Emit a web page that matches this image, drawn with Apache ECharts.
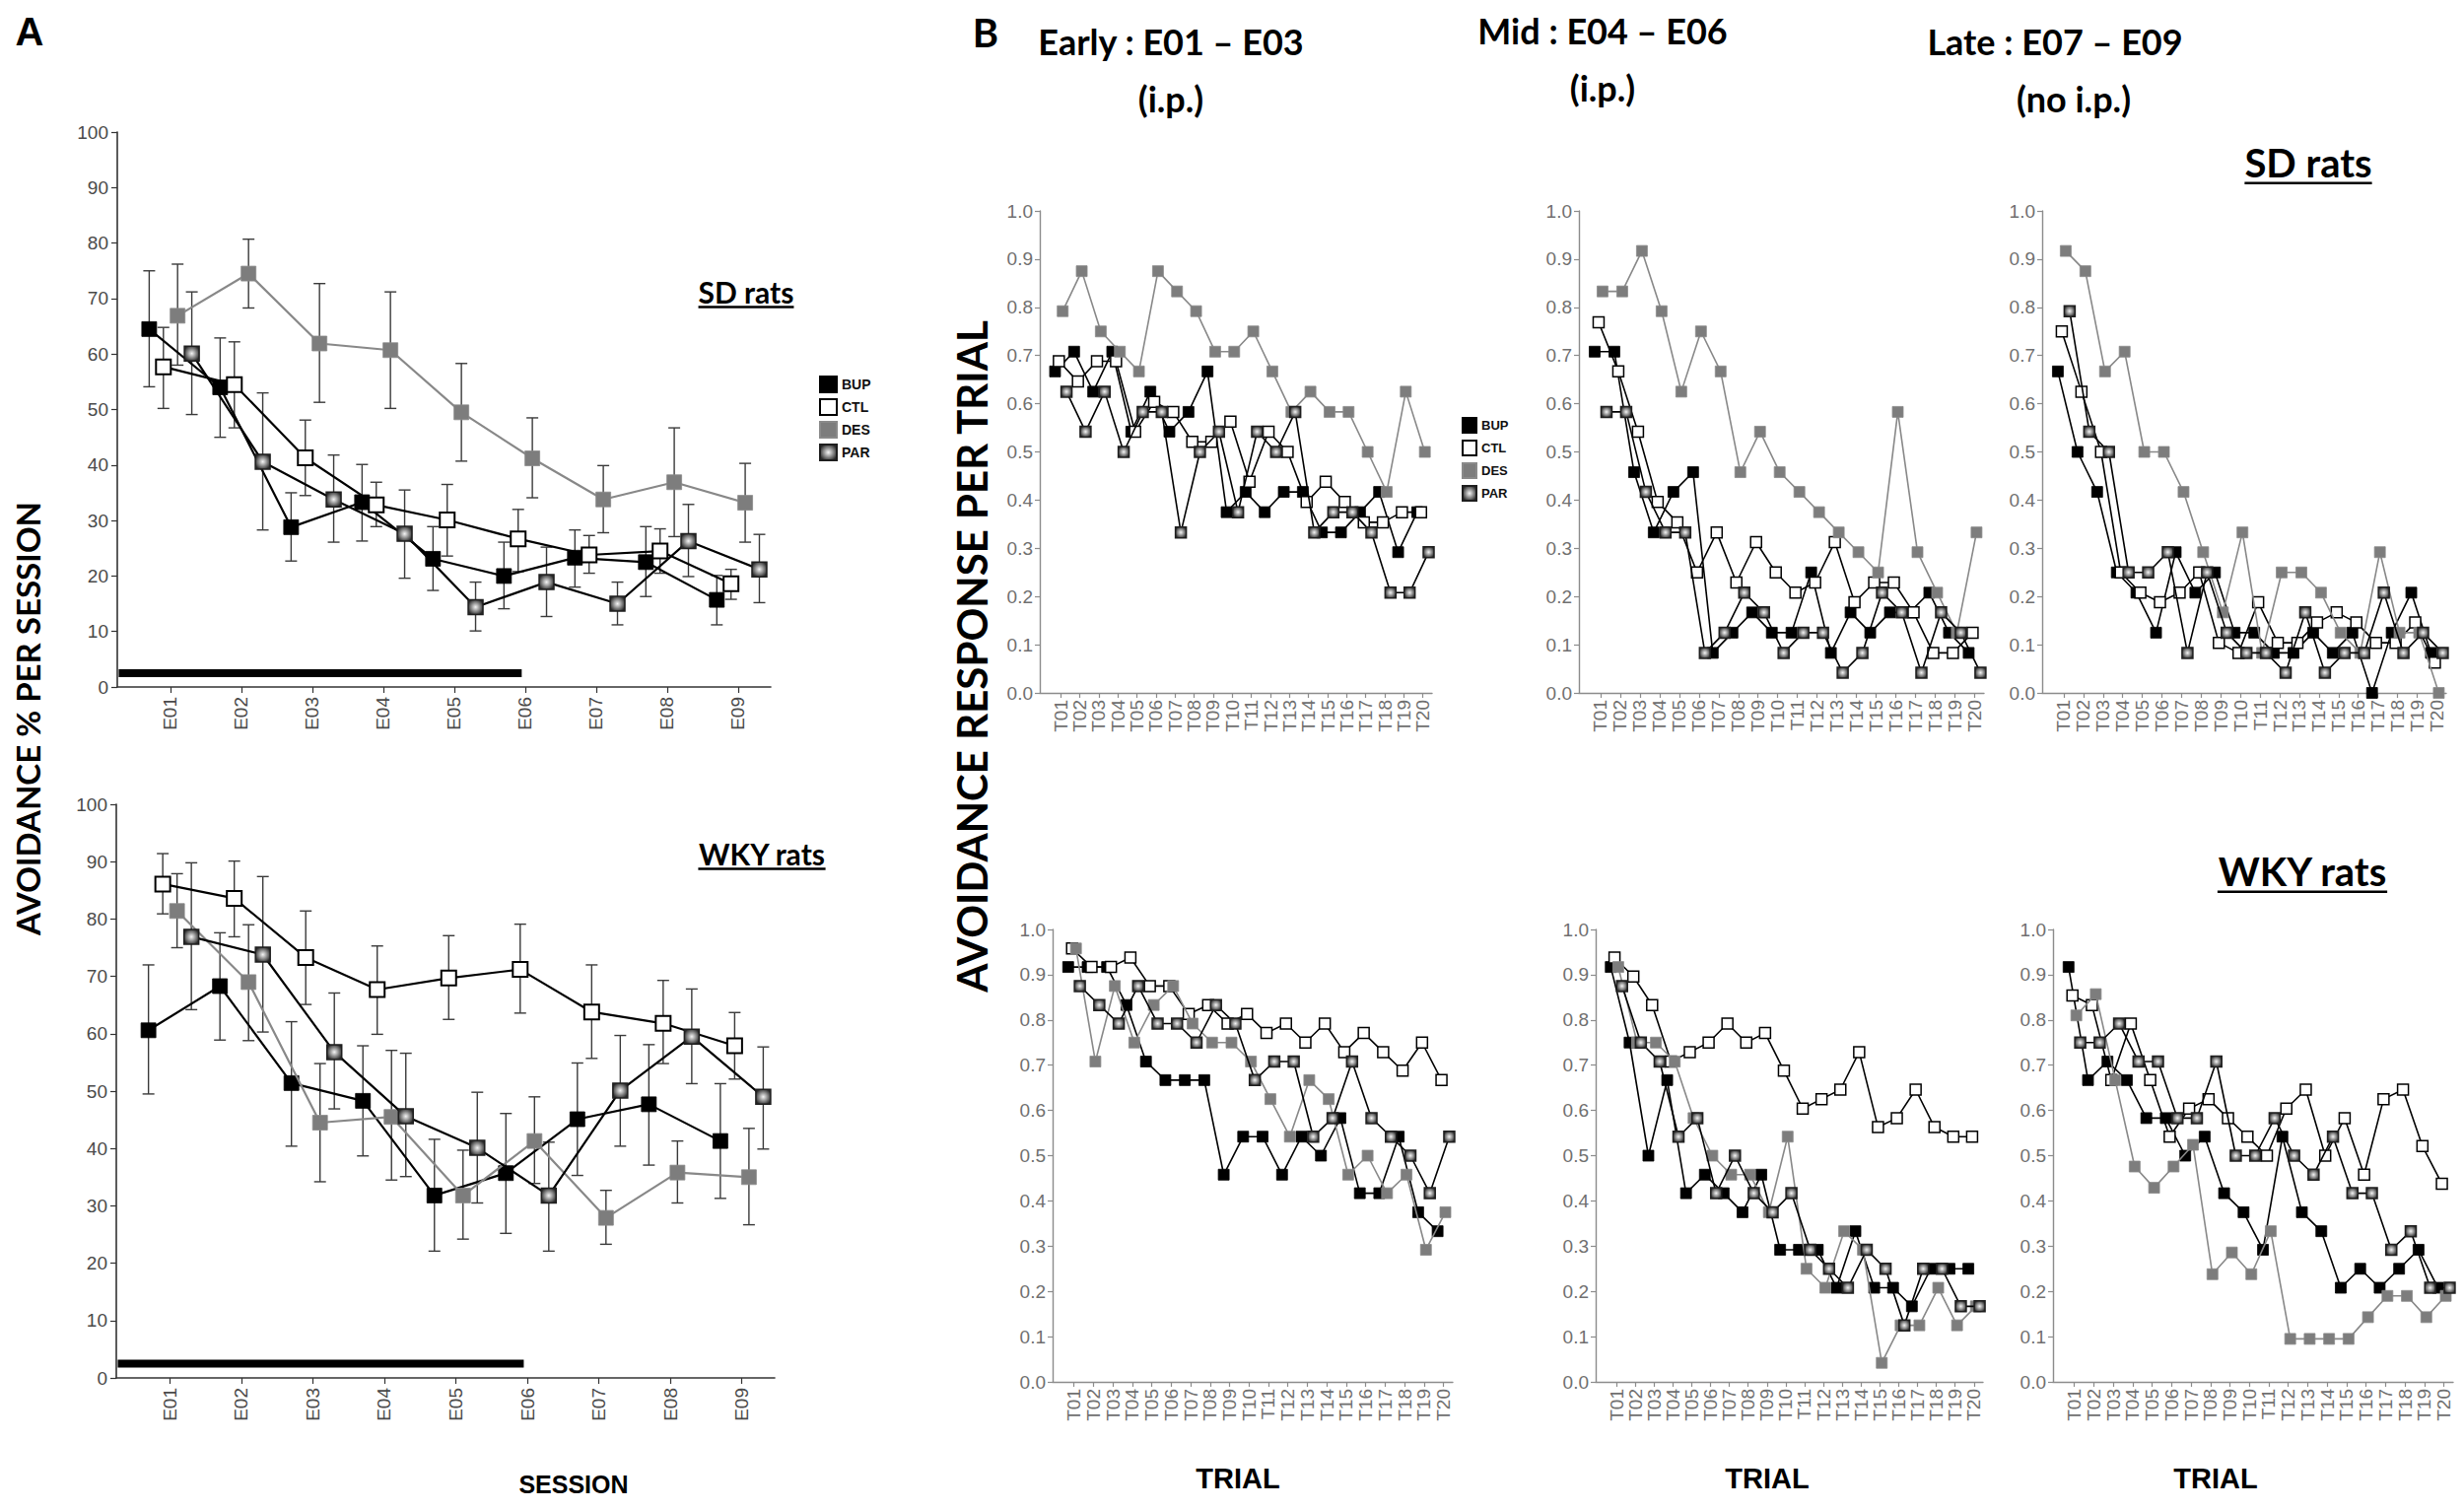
<!DOCTYPE html>
<html><head><meta charset="utf-8">
<script src="https://cdn.jsdelivr.net/npm/echarts@6/dist/echarts.min.js"></script>
<style>html,body{margin:0;padding:0;background:#fff}#c{width:2500px;height:1532px}</style>
</head><body><div id="c"></div>
<script>
// ---------------- DATA ----------------
const groups = ['BUP', 'CTL', 'DES', 'PAR'];
const sessions = ['E01', 'E02', 'E03', 'E04', 'E05', 'E06', 'E07', 'E08', 'E09'];
const trials = ['T01','T02','T03','T04','T05','T06','T07','T08','T09','T10','T11','T12','T13','T14','T15','T16','T17','T18','T19','T20'];

// Panel A – avoidance % per session (mean) and error bars [low, high]
const sdSessionBUP = [64.5, 54.0, 28.8, 33.3, 23.1, 20.0, 23.3, 22.5, 15.7];
const sdSessionCTL = [57.7, 54.5, 41.3, 32.8, 30.1, 26.7, 23.8, 24.5, 18.6];
const sdSessionDES = [66.9, 74.5, 61.9, 60.7, 49.5, 41.2, 33.8, 36.9, 33.2];
const sdSessionPAR = [60.1, 40.6, 33.8, 27.6, 14.4, 18.9, 15.0, 26.3, 21.2];
const sdErrBUP = [[54.1,75.0],[45.0,62.9],[22.7,35.0],[26.3,40.1],[17.4,28.9],[14.1,26.1],[18.0,28.3],[16.3,28.9],[11.2,20.1]];
const sdErrCTL = [[50.2,64.8],[46.7,62.2],[34.5,48.1],[28.9,36.9],[23.6,36.5],[20.8,32.0],[20.5,27.3],[20.5,28.5],[15.8,21.2]];
const sdErrDES = [[58.0,76.2],[68.3,80.7],[51.3,72.7],[50.2,71.2],[40.7,58.3],[34.1,48.5],[27.8,39.9],[27.1,46.7],[26.1,40.3]];
const sdErrPAR = [[49.1,71.2],[28.3,53.0],[26.1,41.8],[19.6,35.5],[10.1,18.9],[12.7,25.2],[11.2,18.9],[19.9,32.9],[15.2,27.5]];

const wkySessionBUP = [60.6, 68.3, 51.4, 48.3, 31.8, 35.7, 45.1, 47.7, 41.3];
const wkySessionCTL = [86.1, 83.6, 73.3, 67.7, 69.7, 71.2, 63.8, 61.8, 57.9];
const wkySessionDES = [81.4, 69.0, 44.5, 45.5, 31.8, 41.3, 27.9, 35.8, 35.0];
const wkySessionPAR = [76.9, 73.8, 56.8, 45.6, 40.1, 31.8, 50.1, 59.5, 49.0];
const wkyErrBUP = [[49.5,72.0],[58.9,77.6],[40.4,62.1],[38.7,57.9],[22.1,41.6],[25.2,46.1],[35.3,54.9],[37.1,58.1],[31.3,51.3]];
const wkyErrCTL = [[80.9,91.4],[76.9,90.1],[65.1,81.4],[59.9,75.3],[62.5,77.1],[63.6,79.1],[55.7,72.0],[54.8,69.3],[52.1,63.7]];
const wkyErrDES = [[75.0,87.9],[58.8,79.0],[34.2,54.8],[34.5,57.1],[24.2,39.7],[33.9,49.0],[23.3,32.7],[30.5,41.3],[26.7,43.5]];
const wkyErrPAR = [[64.2,89.8],[60.3,87.4],[46.9,67.1],[35.1,56.6],[30.5,49.8],[22.1,41.1],[40.4,59.7],[51.3,67.8],[39.9,57.7]];

// Treatment period bar (sessions, from..to) and its level on the % axis
const drugPeriod = [0.27, 5.95];
const drugLevel = 2.5;

// Panel B – avoidance response per trial
const sdEarlyBUP = [0.667,0.708,0.625,0.708,0.542,0.625,0.542,0.583,0.667,0.375,0.417,0.375,0.417,0.417,0.333,0.333,0.375,0.417,0.292,0.375];
const sdEarlyCTL = [0.688,0.646,0.688,0.688,0.542,0.604,0.583,0.521,0.521,0.563,0.438,0.542,0.500,0.396,0.438,0.396,0.354,0.354,0.375,0.375];
const sdEarlyDES = [0.792,0.875,0.750,0.708,0.667,0.875,0.833,0.792,0.708,0.708,0.750,0.667,0.583,0.625,0.583,0.583,0.500,0.417,0.625,0.500];
const sdEarlyPAR = [0.625,0.542,0.625,0.500,0.583,0.583,0.333,0.500,0.542,0.375,0.542,0.500,0.583,0.333,0.375,0.375,0.333,0.208,0.208,0.292];

const sdMidBUP = [0.708,0.708,0.458,0.333,0.417,0.458,0.083,0.125,0.167,0.125,0.125,0.250,0.083,0.167,0.125,0.167,0.167,0.208,0.125,0.083];
const sdMidCTL = [0.769,0.667,0.542,0.396,0.354,0.250,0.333,0.229,0.313,0.250,0.208,0.229,0.313,0.188,0.229,0.229,0.167,0.083,0.083,0.125];
const sdMidDES = [0.833,0.833,0.917,0.792,0.625,0.750,0.667,0.458,0.542,0.458,0.417,0.375,0.333,0.292,0.250,0.583,0.292,0.208,0.125,0.333];
const sdMidPAR = [0.583,0.583,0.417,0.333,0.333,0.083,0.125,0.208,0.167,0.083,0.125,0.125,0.042,0.083,0.208,0.167,0.042,0.167,0.125,0.042];

const sdLateBUP = [0.667,0.500,0.417,0.250,0.208,0.125,0.292,0.208,0.250,0.125,0.125,0.083,0.083,0.125,0.083,0.125,0.000,0.125,0.208,0.083];
const sdLateCTL = [0.750,0.625,0.500,0.250,0.208,0.188,0.208,0.250,0.104,0.083,0.188,0.104,0.104,0.146,0.167,0.146,0.104,0.104,0.146,0.063];
const sdLateDES = [0.917,0.875,0.667,0.708,0.500,0.500,0.417,0.292,0.167,0.333,0.083,0.250,0.250,0.208,0.125,0.083,0.292,0.125,0.125,0.000];
const sdLatePAR = [0.792,0.542,0.500,0.250,0.250,0.292,0.083,0.250,0.125,0.083,0.083,0.042,0.167,0.042,0.083,0.083,0.208,0.083,0.125,0.083];

const wkyEarlyBUP = [0.917,0.917,0.917,0.833,0.708,0.667,0.667,0.667,0.458,0.542,0.542,0.458,0.542,0.500,0.583,0.417,0.417,0.542,0.375,0.333];
const wkyEarlyCTL = [0.958,0.917,0.917,0.938,0.875,0.875,0.813,0.833,0.792,0.813,0.771,0.792,0.750,0.792,0.729,0.771,0.729,0.688,0.750,0.667];
const wkyEarlyDES = [0.958,0.708,0.875,0.750,0.833,0.875,0.792,0.750,0.750,0.708,0.625,0.542,0.667,0.625,0.458,0.500,0.417,0.458,0.292,0.375];
const wkyEarlyPAR = [0.875,0.833,0.792,0.875,0.792,0.792,0.750,0.833,0.792,0.667,0.708,0.708,0.542,0.583,0.708,0.583,0.542,0.500,0.417,0.542];

const wkyMidBUP = [0.917,0.750,0.500,0.667,0.417,0.458,0.417,0.375,0.458,0.292,0.292,0.292,0.208,0.333,0.208,0.208,0.167,0.250,0.250,0.250];
const wkyMidCTL = [0.938,0.896,0.833,0.708,0.729,0.750,0.792,0.750,0.771,0.688,0.604,0.625,0.646,0.729,0.563,0.583,0.646,0.563,0.542,0.542];
const wkyMidDES = [0.917,0.750,0.750,0.708,0.583,0.500,0.458,0.458,0.375,0.542,0.250,0.208,0.333,0.292,0.042,0.125,0.125,0.208,0.125,0.167];
const wkyMidPAR = [0.875,0.750,0.708,0.542,0.583,0.417,0.500,0.417,0.375,0.417,0.292,0.250,0.208,0.292,0.250,0.125,0.250,0.250,0.167,0.167];

const wkyLateBUP = [0.917,0.667,0.708,0.667,0.583,0.583,0.500,0.542,0.417,0.375,0.292,0.542,0.375,0.333,0.208,0.250,0.208,0.250,0.292,0.208];
const wkyLateCTL = [0.854,0.833,0.667,0.792,0.667,0.542,0.604,0.625,0.583,0.542,0.500,0.604,0.646,0.500,0.583,0.458,0.625,0.646,0.521,0.438];
const wkyLateDES = [0.810,0.857,0.667,0.476,0.429,0.476,0.524,0.238,0.286,0.238,0.333,0.095,0.095,0.095,0.095,0.143,0.190,0.190,0.143,0.190];
const wkyLatePAR = [0.750,0.750,0.792,0.708,0.708,0.583,0.583,0.708,0.500,0.500,0.583,0.500,0.458,0.542,0.417,0.417,0.292,0.333,0.208,0.208];

// ---------------- LAYOUT / STYLE ----------------
const dodge = { BUP: -0.3, CTL: -0.1, DES: 0.1, PAR: 0.3 };
const NARROW = "'Liberation Sans Narrow', 'Liberation Sans', Arial, sans-serif";
const REG = "'Liberation Sans', Arial, sans-serif";
const BOLD_A = "'Liberation Sans', Arial, sans-serif";
const BOLD_B = "Lato, 'Open Sans', sans-serif";

const parFill = new echarts.graphic.RadialGradient(0.5, 0.5, 0.55, [
  { offset: 0, color: '#f4f4f4' }, { offset: 0.25, color: '#c4c4c4' },
  { offset: 0.55, color: '#888888' }, { offset: 0.85, color: '#4a4a4a' }, { offset: 1, color: '#2a2a2a' }
]);
const look = {
  BUP: { fill: '#000000', border: '#000000', line: '#000000' },
  CTL: { fill: '#ffffff', border: '#000000', line: '#000000' },
  DES: { fill: '#7d7d7d', border: '#8a8a8a', line: '#888888' },
  PAR: { fill: parFill, border: '#1e1e1e', line: '#000000' }
};

const panels = [
  // panel A
  { kind: 'A', box: { left: 119, top: 134, width: 663, height: 563 }, vals: [sdSessionBUP, sdSessionCTL, sdSessionDES, sdSessionPAR], errs: [sdErrBUP, sdErrCTL, sdErrDES, sdErrPAR] },
  { kind: 'A', box: { left: 118, top: 816, width: 668, height: 582 }, vals: [wkySessionBUP, wkySessionCTL, wkySessionDES, wkySessionPAR], errs: [wkyErrBUP, wkyErrCTL, wkyErrDES, wkyErrPAR] },
  // panel B
  { kind: 'B', box: { left: 1055, top: 214, width: 398, height: 489 }, vals: [sdEarlyBUP, sdEarlyCTL, sdEarlyDES, sdEarlyPAR] },
  { kind: 'B', box: { left: 1602, top: 214, width: 411, height: 489 }, vals: [sdMidBUP, sdMidCTL, sdMidDES, sdMidPAR] },
  { kind: 'B', box: { left: 2072, top: 214, width: 410, height: 489 }, vals: [sdLateBUP, sdLateCTL, sdLateDES, sdLatePAR] },
  { kind: 'B', box: { left: 1068, top: 943, width: 406, height: 459 }, vals: [wkyEarlyBUP, wkyEarlyCTL, wkyEarlyDES, wkyEarlyPAR] },
  { kind: 'B', box: { left: 1619, top: 943, width: 393, height: 459 }, vals: [wkyMidBUP, wkyMidCTL, wkyMidDES, wkyMidPAR] },
  { kind: 'B', box: { left: 2083, top: 943, width: 406, height: 459 }, vals: [wkyLateBUP, wkyLateCTL, wkyLateDES, wkyLatePAR] }
];

const sessionTicks = sessions.map((s, i) => i + 1);
const trialTicks = trials.map((s, i) => i + 1);

const grids = [], xAxes = [], yAxes = [], series = [];

function errRender(params, api) {
  const x = api.value(0), lo = api.value(1), hi = api.value(2);
  const a = api.coord([x, lo]), b = api.coord([x, hi]);
  const c = 6;
  const st = { stroke: '#3a3a3a', lineWidth: 1.4 };
  return { type: 'group', children: [
    { type: 'line', shape: { x1: a[0], y1: a[1], x2: b[0], y2: b[1] }, style: st },
    { type: 'line', shape: { x1: a[0] - c, y1: a[1], x2: a[0] + c, y2: a[1] }, style: st },
    { type: 'line', shape: { x1: b[0] - c, y1: b[1], x2: b[0] + c, y2: b[1] }, style: st }
  ] };
}

panels.forEach((p, gi) => {
  const isA = p.kind === 'A';
  grids.push(Object.assign({ outerBoundsMode: 'none', containLabel: false }, p.box));
  const axisCol = isA ? '#333333' : '#8c8c8c';
  const labCol = isA ? '#4a4a4a' : '#707070';
  const labFont = isA ? REG : NARROW;
  const labSize = isA ? 19 : 19;
  const ticks = isA ? sessionTicks : trialTicks;
  const names = isA ? sessions : trials;
  xAxes.push({
    type: 'value', gridIndex: gi,
    min: isA ? 0.25 : -0.1, max: isA ? 9.46 : 20.48,
    axisLine: { show: true, onZero: false, lineStyle: { color: axisCol, width: isA ? 1.6 : 1.4 } },
    axisTick: { show: true, customValues: ticks, length: isA ? 6 : 5, lineStyle: { color: axisCol, width: 1.2 } },
    axisLabel: { show: true, customValues: ticks, formatter: v => names[Math.round(v) - 1] || '',
      rotate: 90, margin: isA ? 10 : 7, color: labCol, fontSize: labSize, fontFamily: labFont, hideOverlap: false },
    splitLine: { show: false }
  });
  yAxes.push({
    type: 'value', gridIndex: gi,
    min: 0, max: isA ? 100 : 1, interval: isA ? 10 : 0.1,
    axisLine: { show: true, onZero: false, lineStyle: { color: axisCol, width: isA ? 1.6 : 1.4 } },
    axisTick: { show: true, length: isA ? 6 : 5, lineStyle: { color: axisCol, width: 1.2 } },
    axisLabel: { show: true, margin: isA ? 9 : 7, color: labCol, fontSize: labSize, fontFamily: labFont,
      formatter: v => isA ? String(Math.round(v)) : v.toFixed(1) },
    splitLine: { show: false }
  });

  if (isA) {
    series.push({
      type: 'line', name: 'treatment', xAxisIndex: gi, yAxisIndex: gi, silent: true,
      data: [[drugPeriod[0], drugLevel], [drugPeriod[1], drugLevel]],
      symbol: 'none', lineStyle: { color: '#000', width: 8, cap: 'butt' }, z: 1
    });
    groups.forEach((g, k) => {
      series.push({
        type: 'custom', name: g + ' error', xAxisIndex: gi, yAxisIndex: gi, silent: true,
        renderItem: errRender, encode: { x: 0, y: [1, 2] },
        data: p.errs[k].map((e, i) => [i + 1 + dodge[g], e[0], e[1]]), z: 2
      });
    });
  }
  groups.forEach((g, k) => {
    const L = look[g];
    series.push({
      type: 'line', name: g, xAxisIndex: gi, yAxisIndex: gi,
      data: p.vals[k].map((v, i) => [i + 1 + dodge[g], v]),
      symbol: 'rect', symbolSize: isA ? 15 : 11, showAllSymbol: true,
      lineStyle: { color: L.line, width: isA ? 2.2 : 1.6 },
      itemStyle: { color: L.fill, borderColor: L.border, borderWidth: g === 'CTL' ? (isA ? 2 : 1.5) : (g === 'PAR' ? 1.5 : 0.8) },
      emphasis: { disabled: true }, z: 3 + k
    });
  });
});

// ---------------- TEXT ----------------
const mctx = document.createElement('canvas').getContext('2d');
function tw(str, font) { mctx.font = font; return mctx.measureText(str).width; }
function txt(str, x, y, size, family, opts) {
  opts = opts || {};
  const font = 'bold ' + size + 'px ' + family;
  return { type: 'text', x: x, y: y, rotation: opts.rotation || 0, silent: true,
    style: { text: str, font: font, fill: '#000', align: 'center', verticalAlign: 'middle', textAlign: 'center', textVerticalAlign: 'middle' } };
}
function underlined(str, x, y, size, family) {
  const font = 'bold ' + size + 'px ' + family;
  const w = tw(str, font);
  return [txt(str, x, y, size, family),
    { type: 'line', silent: true, shape: { x1: x - w / 2, y1: y + size * 0.52, x2: x + w / 2, y2: y + size * 0.52 }, style: { stroke: '#000', lineWidth: 2.5 } }];
}

const graphic = [].concat(
  [txt('A', 30, 32, 40, BOLD_A), txt('B', 1000, 33, 40, BOLD_B)],
  [txt('Early : E01 – E03', 1188, 42, 36, BOLD_B), txt('(i.p.)', 1188, 100, 36, BOLD_B)],
  [txt('Mid : E04 – E06', 1626, 31, 36, BOLD_B), txt('(i.p.)', 1626, 89, 36, BOLD_B)],
  [txt('Late : E07 – E09', 2085, 42, 36, BOLD_B), txt('(no i.p.)', 2104, 100, 36, BOLD_B)],
  underlined('SD rats', 2342, 165, 40, BOLD_B),
  underlined('WKY rats', 2336, 884, 40, BOLD_B),
  underlined('SD rats', 757, 296, 30, BOLD_B),
  underlined('WKY rats', 773, 866, 30, BOLD_B),
  [txt('SESSION', 582, 1506, 25, BOLD_A)],
  [txt('TRIAL', 1256, 1500, 29, BOLD_A), txt('TRIAL', 1793, 1500, 29, BOLD_A), txt('TRIAL', 2248, 1500, 29, BOLD_A)],
  [txt('AVOIDANCE % PER SESSION', 28, 729, 33, BOLD_B, { rotation: Math.PI / 2 })],
  [txt('AVOIDANCE RESPONSE PER TRIAL', 986, 666, 42, BOLD_B, { rotation: Math.PI / 2 })]
);

const legendCommon = {
  data: groups, orient: 'vertical', icon: 'rect', selectedMode: false,
  textStyle: { fontWeight: 'bold', color: '#111', fontFamily: NARROW }
};

const chart = echarts.init(document.getElementById('c'), null, { renderer: 'svg', width: 2500, height: 1532 });
chart.setOption({
  animation: false,
  backgroundColor: '#ffffff',
  grid: grids, xAxis: xAxes, yAxis: yAxes, series: series,
  legend: [
    Object.assign({}, legendCommon, { left: 826, top: 376, itemWidth: 17, itemHeight: 16, itemGap: 5,
      textStyle: Object.assign({}, legendCommon.textStyle, { fontSize: 14 }) }),
    Object.assign({}, legendCommon, { left: 1478, top: 418, itemWidth: 14, itemHeight: 15, itemGap: 6,
      textStyle: Object.assign({}, legendCommon.textStyle, { fontSize: 13 }) })
  ],
  graphic: graphic
});
</script>
</body></html>
